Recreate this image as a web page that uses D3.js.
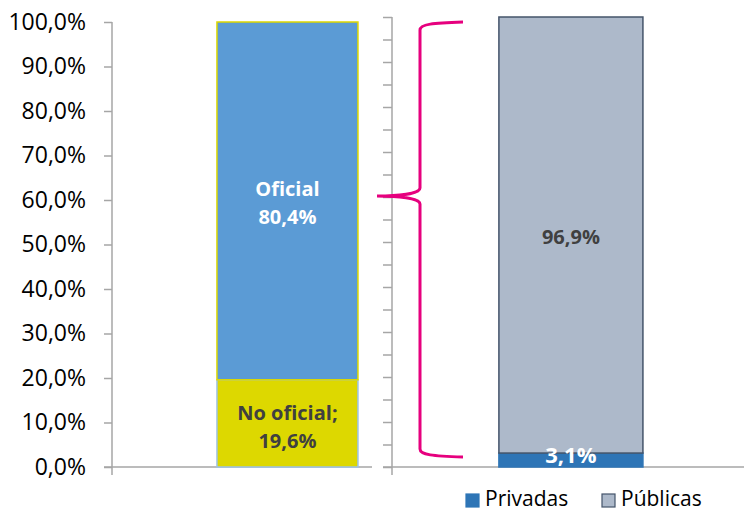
<!DOCTYPE html>
<html><head><meta charset="utf-8">
<script src="https://cdn.jsdelivr.net/npm/d3@7"></script>
<style>body{margin:0;background:#fff}svg{display:block}text{font-family:"Open Sans",sans-serif}</style>
</head><body><svg id="c" width="744" height="512"></svg>
<script>
const leftCategories = ["Total"];
const leftSeries = ["No oficial", "Oficial"];
const leftValues = [0.196, 0.804];
const leftLabels = [["No oficial;", "19,6%"], ["Oficial", "80,4%"]];
const rightSeries = ["Privadas", "Públicas"];
const rightValues = [0.031, 0.969];
const rightLabels = ["3,1%", "96,9%"];
const tickLabels = ["0,0%","10,0%","20,0%","30,0%","40,0%","50,0%","60,0%","70,0%","80,0%","90,0%","100,0%"];

const svg = d3.select("#c");
const axisColor = "#A6A6A6";
const yL = d3.scaleLinear().domain([0, 1]).range([467, 22]);
const yR = d3.scaleLinear().domain([0, 1]).range([467, 17]);
const xL = d3.scaleBand().domain(leftCategories).range([112, 372]).paddingInner(0).paddingOuter(0.422).align(0.882);
const xR = d3.scaleBand().domain(leftCategories).range([392, 744]).paddingInner(0).paddingOuter(0.722).align(0.514);

// left axis
const gL = svg.append("g").attr("transform", "translate(112,0)")
  .call(d3.axisLeft(yL).tickValues(d3.range(0, 11).map(i => i / 10)).tickSize(8).tickPadding(18)
    .tickFormat((d, i) => tickLabels[i]));
gL.select(".domain").remove();
gL.selectAll(".tick line").attr("stroke", axisColor).attr("stroke-width", 1.5);
gL.selectAll(".tick text").attr("font-size", 23).attr("fill", "#000").attr("font-family", "Open Sans");
svg.append("line").attr("x1", 112).attr("x2", 112).attr("y1", yL(1)).attr("y2", yL(0) + 8).attr("stroke", axisColor).attr("stroke-width", 1.5);
svg.append("line").attr("x1", 104).attr("x2", 372).attr("y1", yL(0)).attr("y2", yL(0)).attr("stroke", axisColor).attr("stroke-width", 1.5);

// right axis
const gR = svg.append("g").attr("transform", "translate(392,0)")
  .call(d3.axisLeft(yR).tickValues(d3.range(0, 21).map(i => i / 20)).tickSize(9).tickFormat(""));
gR.select(".domain").remove();
gR.selectAll(".tick line").attr("stroke", axisColor).attr("stroke-width", 1.5);
svg.append("line").attr("x1", 392).attr("x2", 392).attr("y1", yR(1)).attr("y2", yR(0) + 8).attr("stroke", axisColor).attr("stroke-width", 1.5);
svg.append("line").attr("x1", 383).attr("x2", 744).attr("y1", yR(0)).attr("y2", yR(0)).attr("stroke", axisColor).attr("stroke-width", 1.5);

// left stacked bar
const lStack = [];
let acc = 0;
leftValues.forEach((v, i) => { lStack.push({ s: leftSeries[i], y0: acc, y1: acc + v, lab: leftLabels[i] }); acc += v; });
const lFill = ["#DDD800", "#5B9BD5"];
const lStroke = ["#9DC3E6", "#DDD800"];
lStack.forEach((d, i) => {
  svg.append("rect").attr("x", xL("Total")).attr("width", xL.bandwidth())
    .attr("y", yL(d.y1)).attr("height", yL(d.y0) - yL(d.y1))
    .attr("fill", lFill[i]).attr("stroke", lStroke[i]).attr("stroke-width", 1.5);
});
const cxL = xL("Total") + xL.bandwidth() / 2;
const midNo = (yL(lStack[0].y0) + yL(lStack[0].y1)) / 2;
const midOf = (yL(lStack[1].y0) + yL(lStack[1].y1)) / 2;
[[lStack[0], midNo + 1, "#404040"], [lStack[1], midOf - 1, "#FFFFFF"]].forEach(([d, m, c]) => {
  const t = svg.append("text").attr("x", cxL).attr("text-anchor", "middle").attr("font-weight", "bold")
    .attr("font-size", 20).attr("fill", c);
  t.append("tspan").attr("x", cxL).attr("y", m - 4).text(d.lab[0]);
  t.append("tspan").attr("x", cxL).attr("y", m + 24).text(d.lab[1]);
});

// right stacked bar
const rStack = [];
acc = 0;
rightValues.forEach((v, i) => { rStack.push({ s: rightSeries[i], y0: acc, y1: acc + v, lab: rightLabels[i] }); acc += v; });
const rFill = ["#2E75B6", "#ADB9CA"];
rStack.forEach((d, i) => {
  svg.append("rect").attr("x", xR("Total")).attr("width", xR.bandwidth())
    .attr("y", yR(d.y1)).attr("height", yR(d.y0) - yR(d.y1))
    .attr("fill", rFill[i]).attr("stroke", i === 0 ? "#2E75B6" : "#44546A").attr("stroke-width", 1.5);
});
const cxR = xR("Total") + xR.bandwidth() / 2;
svg.append("text").attr("x", cxR).attr("y", yR(rStack[0].y1) + 10).attr("text-anchor", "middle")
  .attr("font-weight", "bold").attr("font-size", 22).attr("fill", "#fff").text(rStack[0].lab);
svg.append("text").attr("x", cxR).attr("y", yR((rStack[1].y0 + rStack[1].y1) / 2) + 9).attr("text-anchor", "middle")
  .attr("font-weight", "bold").attr("font-size", 20).attr("fill", "#404040").text(rStack[1].lab);

// brace
const bx = 420, bTip = 377, bEnd = 463;
const yTop = yL(1), yMid = 196, yBot = yL(0.0225);
const brace = `M${bEnd},${yTop} C${bEnd - 30},${yTop + 1} ${bx},${yTop + 2} ${bx},${yTop + 8}
 L${bx},${yMid - 8} C${bx},${yMid - 2} ${bTip + 20},${yMid} ${bTip},${yMid}
 C${bTip + 20},${yMid} ${bx},${yMid + 2} ${bx},${yMid + 8}
 L${bx},${yBot - 8} C${bx},${yBot - 2} ${bEnd - 30},${yBot - 1} ${bEnd},${yBot}`;
svg.append("path").attr("d", brace).attr("fill", "none").attr("stroke", "#E6007E").attr("stroke-width", 3);

// legend
const leg = svg.append("g");
const legX = [466, 602];
rightSeries.forEach((s, i) => {
  leg.append("rect").attr("x", legX[i]).attr("y", 494).attr("width", 13).attr("height", 13)
    .attr("fill", rFill[i]).attr("stroke", i === 0 ? "#2E75B6" : "#44546A").attr("stroke-width", 1.2);
  leg.append("text").attr("x", legX[i] + 19).attr("y", 506).attr("font-size", 21).attr("fill", "#000").text(s);
});
</script></body></html>
